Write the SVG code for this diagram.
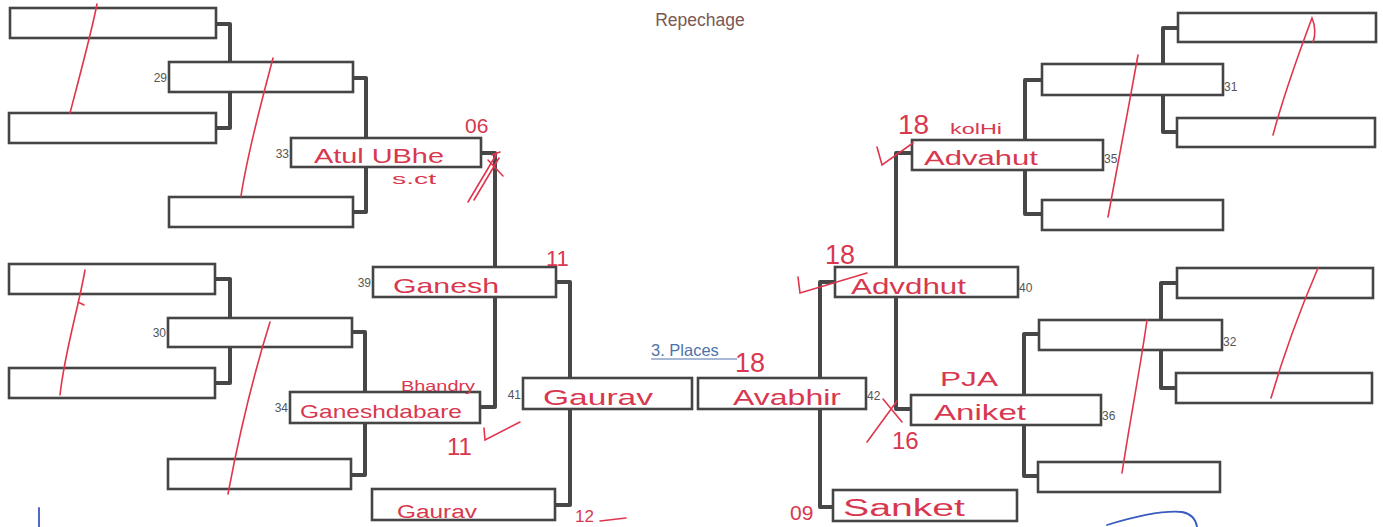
<svg xmlns="http://www.w3.org/2000/svg" width="1383" height="527" viewBox="0 0 1383 527">
<style>
.bx{fill:#fff;stroke:#454545;stroke-width:2.6}
.cn{fill:none;stroke:#474747;stroke-width:4;stroke-linejoin:round}
.num{font-family:"Liberation Sans",Arial,sans-serif;font-size:12px;fill:#555}
.hw{font-family:"Liberation Sans",Arial,sans-serif;fill:#d8384f}
.rs{fill:none;stroke:#e0354d;stroke-width:1.6;stroke-linecap:round}
.bs{fill:none;stroke:#3a5bbf;stroke-width:1.8;stroke-linecap:round}
</style>
<rect width="1383" height="527" fill="#fff"/>
<text x="700" y="26" text-anchor="middle" font-family="Liberation Sans,Arial,sans-serif" font-size="17.5" fill="#7a5853">Repechage</text>
<g id="connectors">
<path class="cn" d="M216 24H230V128H216"/>
<path class="cn" d="M216 279H230V383H216"/>
<path class="cn" d="M353 78H366V212H353"/>
<path class="cn" d="M352 332H365V475H351"/>
<path class="cn" d="M480 153H495V407H480"/>
<path class="cn" d="M556 282H570V505H555"/>
<path class="cn" d="M835 282H820V507H833"/>
<path class="cn" d="M912 153H896V409H911"/>
<path class="cn" d="M1042 80H1025V214H1042"/>
<path class="cn" d="M1039 334H1024V476H1038"/>
<path class="cn" d="M1178 28H1163V132H1177"/>
<path class="cn" d="M1177 283H1161V388H1176"/>
</g>
<g id="n-l1a"><rect class="bx" x="10" y="8" width="206" height="30"/></g>
<g id="n-l1b"><rect class="bx" x="9" y="113" width="207" height="30"/></g>
<g id="n-l1c"><rect class="bx" x="9" y="264" width="206" height="30"/></g>
<g id="n-l1d"><rect class="bx" x="9" y="368" width="206" height="30"/></g>
<g id="n-29"><rect class="bx" x="169" y="62" width="184" height="30"/><text class="num" x="167" y="82" text-anchor="end">29</text></g>
<g id="n-l2b"><rect class="bx" x="169" y="197" width="184" height="30"/></g>
<g id="n-30"><rect class="bx" x="168" y="318" width="184" height="29"/><text class="num" x="166" y="337" text-anchor="end">30</text></g>
<g id="n-l2d"><rect class="bx" x="168" y="459" width="183" height="30"/></g>
<g id="n-33"><rect class="bx" x="291" y="138" width="190" height="29"/><text class="num" x="289" y="158" text-anchor="end">33</text>
<text class="hw" x="314" y="163" font-size="21" textLength="130" lengthAdjust="spacingAndGlyphs">Atul UBhe</text><text class="hw" x="392" y="184" font-size="14" textLength="44" lengthAdjust="spacingAndGlyphs">s.ct</text></g>
<g id="n-34"><rect class="bx" x="290" y="392" width="190" height="31"/><text class="num" x="288" y="412" text-anchor="end">34</text>
<text class="hw" x="300" y="418" font-size="19" textLength="162" lengthAdjust="spacingAndGlyphs">Ganeshdabare</text><text class="hw" x="401" y="391" font-size="14" textLength="74" lengthAdjust="spacingAndGlyphs">Bhandry</text></g>
<g id="n-39"><rect class="bx" x="373" y="267" width="183" height="30"/><text class="num" x="371" y="287" text-anchor="end">39</text>
<text class="hw" x="393" y="293" font-size="21" textLength="106" lengthAdjust="spacingAndGlyphs">Ganesh</text><text class="hw" x="546" y="266" font-size="22">11</text></g>
<g id="n-41"><rect class="bx" x="523" y="378" width="169" height="31"/><text class="num" x="521" y="399" text-anchor="end">41</text>
<text class="hw" x="543" y="405" font-size="22" textLength="110" lengthAdjust="spacingAndGlyphs">Gaurav</text></g>
<g id="n-gaurav2"><rect class="bx" x="372" y="489" width="183" height="31"/><text class="hw" x="397" y="518" font-size="18" textLength="80" lengthAdjust="spacingAndGlyphs">Gaurav</text></g>
<g id="n-42"><rect class="bx" x="698" y="378" width="168" height="31"/><text class="num" x="867" y="400">42</text>
<text class="hw" x="733" y="405" font-size="22" textLength="108" lengthAdjust="spacingAndGlyphs">Avabhir</text><text class="hw" x="735" y="372" font-size="27">18</text></g>
<g id="n-sanket"><rect class="bx" x="833" y="490" width="184" height="31"/><text class="hw" x="843" y="516" font-size="23" textLength="122" lengthAdjust="spacingAndGlyphs">Sanket</text><text class="hw" x="790" y="520" font-size="21">09</text></g>
<g id="n-40"><rect class="bx" x="835" y="267" width="183" height="30"/><text class="num" x="1019" y="292">40</text>
<text class="hw" x="851" y="294" font-size="22" textLength="115" lengthAdjust="spacingAndGlyphs">Advdhut</text><text class="hw" x="825" y="264" font-size="27">18</text></g>
<g id="n-35"><rect class="bx" x="912" y="140" width="191" height="30"/><text class="num" x="1104" y="163">35</text>
<text class="hw" x="924" y="165" font-size="20" textLength="114" lengthAdjust="spacingAndGlyphs">Advahut</text><text class="hw" x="898" y="134" font-size="28">18</text><text class="hw" x="950" y="134" font-size="15" textLength="52" lengthAdjust="spacingAndGlyphs">kolHi</text></g>
<g id="n-36"><rect class="bx" x="911" y="395" width="190" height="30"/><text class="num" x="1102" y="420">36</text>
<text class="hw" x="934" y="420" font-size="22" textLength="92" lengthAdjust="spacingAndGlyphs">Aniket</text><text class="hw" x="940" y="386" font-size="20" textLength="58" lengthAdjust="spacingAndGlyphs">PJA</text><text class="hw" x="892" y="449" font-size="24">16</text></g>
<g id="n-31"><rect class="bx" x="1042" y="64" width="181" height="31"/><text class="num" x="1224" y="91">31</text></g>
<g id="n-r2b"><rect class="bx" x="1042" y="200" width="181" height="30"/></g>
<g id="n-32"><rect class="bx" x="1039" y="320" width="183" height="30"/><text class="num" x="1223" y="346">32</text></g>
<g id="n-r2d"><rect class="bx" x="1038" y="462" width="182" height="30"/></g>
<g id="n-r1a"><rect class="bx" x="1178" y="13" width="198" height="29"/></g>
<g id="n-r1b"><rect class="bx" x="1177" y="118" width="198" height="29"/></g>
<g id="n-r1c"><rect class="bx" x="1177" y="268" width="196" height="30"/></g>
<g id="n-r1d"><rect class="bx" x="1176" y="373" width="196" height="30"/></g>
<g id="third">
<text x="651" y="356" font-family="Liberation Sans,Arial,sans-serif" font-size="16.5" fill="#4f72a8">3. Places</text>
<line x1="651" y1="359" x2="737" y2="359" stroke="#4f72a8" stroke-width="1.2"/>
</g>
<g id="marks">
<text class="hw" x="465" y="133" font-size="21">06</text>
<text class="hw" x="447" y="455" font-size="24">11</text>
<text class="hw" x="575" y="522" font-size="17">12</text>
<path class="rs" d="M97 4C92 30 80 75 70 113"/>
<path class="rs" d="M273 58C262 100 248 150 241 196"/>
<path class="rs" d="M85 270C78 310 65 350 60 395M78 302L84 305"/>
<path class="rs" d="M270 322C255 370 240 430 228 494"/>
<path class="rs" d="M1138 55C1128 110 1117 170 1108 217"/>
<path class="rs" d="M1273 135C1285 90 1300 50 1312 18C1315 25 1316 35 1313 42"/>
<path class="rs" d="M1147 320C1140 370 1130 420 1122 473"/>
<path class="rs" d="M1318 268C1300 310 1285 350 1271 398"/>
<path class="rs" d="M468 202L496 155M474 200L499 158M488 160L503 176M492 155L500 152"/>
<path class="rs" d="M484 428L485 440L520 422"/>
<path class="rs" d="M877 147L882 165L913 143"/>
<path class="rs" d="M798 277L800 293L867 273"/>
<path class="rs" d="M867 442L897 401M883 399L902 422"/>
<path class="rs" d="M600 521L626 518"/>
<path class="bs" d="M39 508V527"/>
<path class="bs" d="M1107 525C1130 518 1160 510 1182 512C1192 514 1196 520 1197 527"/>
</g>
</svg>
